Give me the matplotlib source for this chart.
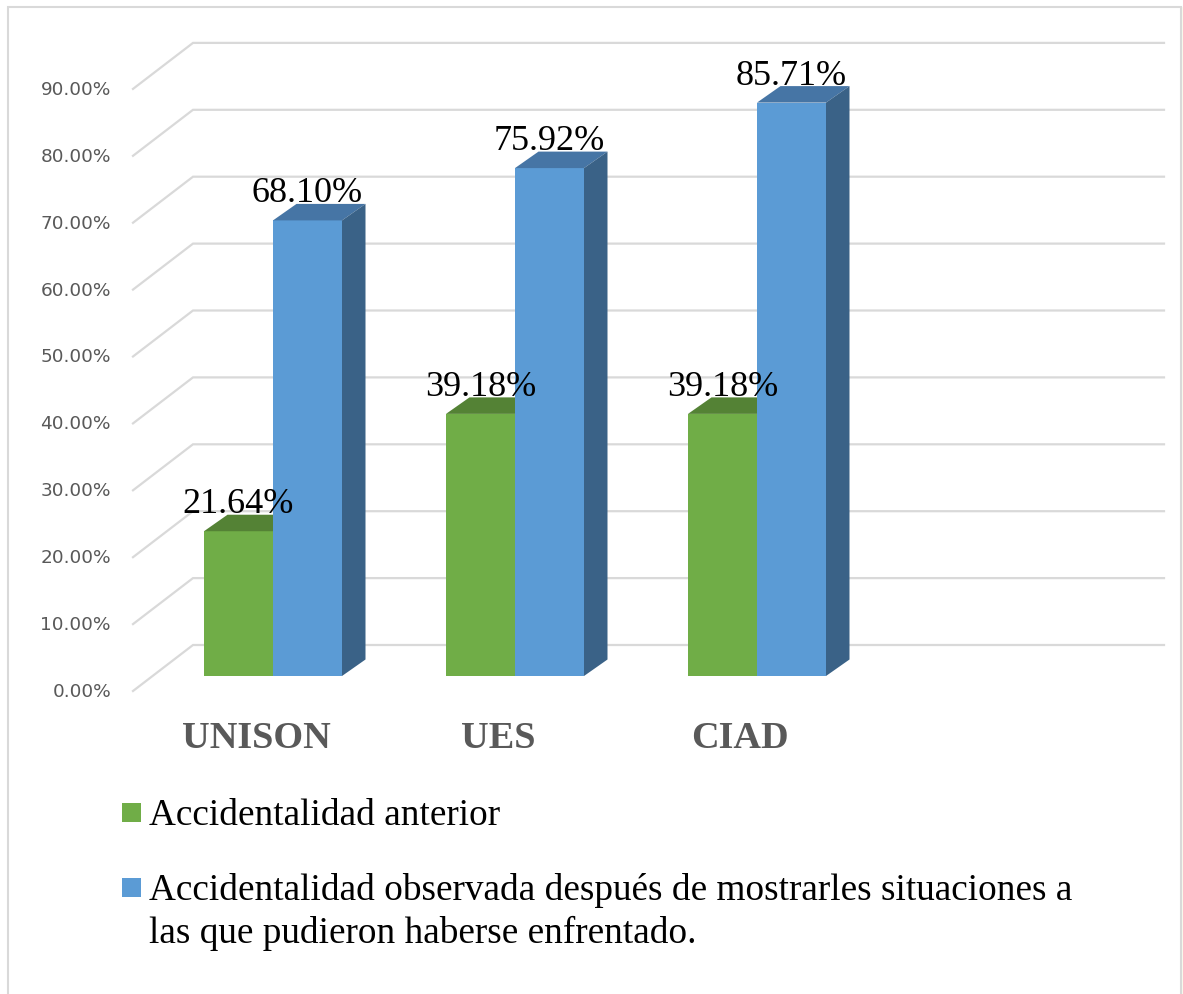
import matplotlib.pyplot as plt
from matplotlib.patches import Polygon, Rectangle
from matplotlib.lines import Line2D

categories = ["UNISON", "UES", "CIAD"]
anterior = [21.64, 39.18, 39.18]
observada = [68.10, 75.92, 85.71]
series_names = [
    "Accidentalidad anterior",
    "Accidentalidad observada después de mostrarles situaciones a\n"
    "las que pudieron haberse enfrentado.",
]
tick_values = [0, 10, 20, 30, 40, 50, 60, 70, 80, 90]

GREEN, GREEN_TOP = "#70AD47", "#548235"
BLUE, BLUE_TOP, BLUE_SIDE = "#5B9BD5", "#4675A5", "#3A6287"
GRID = "#D9D9D9"
LABEL_GRAY = "#595959"
SERIF = "Liberation Serif"

W, H = 1183, 995
fig = plt.figure(figsize=(W / 100, H / 100), dpi=100)
ax = fig.add_axes([0, 0, 1, 1])
ax.axis("off")

# pixel geometry of the pseudo 3D frame (Excel look)
CAT_PX = 242.0   # px between categories
PCT_PX = 6.69    # px per 1 %
X0_PX = 273      # px of first category centre
Y0_PX = 677      # px of 0 % on the bar front plane

ax.set_xlim(-X0_PX / CAT_PX, (W - X0_PX) / CAT_PX)
ax.set_ylim(-(H - Y0_PX) / PCT_PX, Y0_PX / PCT_PX)


def dx(px):
    return px / CAT_PX


def dy(px):
    return px / PCT_PX


bar_w = dx(69)
depth_x, depth_y = dx(23.5), dy(16.5)

# back wall + diagonal floor lines
floor_left = dx(153 - X0_PX)
wall_right = dx(1164 - X0_PX)
for v in tick_values:
    xf, yf = floor_left + dx(-20), v - dy(15)
    xb, yb = floor_left + dx(40), v + dy(31)
    ax.plot([xf, xb, wall_right], [yf, yb, yb], color=GRID, lw=1.6,
            solid_joinstyle="miter", zorder=1)
    ax.text(dx(111 - X0_PX), yf, f"{v:.2f}%", ha="right", va="center",
            fontsize=13.3, color=LABEL_GRAY, family="DejaVu Sans")


def draw_bar(x0, val, front, top, side):
    x1 = x0 + bar_w
    ax.bar(x0, val, width=bar_w, align="edge", color=front, lw=0, zorder=3)
    ax.add_patch(Polygon([(x0, val), (x0 + depth_x, val + depth_y),
                          (x1 + depth_x, val + depth_y), (x1, val)],
                         closed=True, fc=top, lw=0, zorder=3))
    ax.add_patch(Polygon([(x1, 0), (x1 + depth_x, depth_y),
                          (x1 + depth_x, val + depth_y), (x1, val)],
                         closed=True, fc=side, lw=0, zorder=3))


for i, cat in enumerate(categories):
    draw_bar(i - bar_w, anterior[i], GREEN, GREEN_TOP, GREEN_TOP)
    draw_bar(i, observada[i], BLUE, BLUE_TOP, BLUE_SIDE)
    for xc, val in [(i - bar_w / 2, anterior[i]), (i + bar_w / 2, observada[i])]:
        ax.text(xc, val + dy(19), f"{val:.2f}%", ha="center", va="baseline",
                fontsize=26, family=SERIF, color="black", zorder=5)
    ax.text(i - dx(17), -dy(71), cat, ha="center", va="baseline",
            fontsize=27.5, fontweight="bold", family=SERIF, color=LABEL_GRAY)

# legend
for k, (name, col) in enumerate(zip(series_names, [GREEN, BLUE])):
    sq_top = [804, 879][k]
    fig.add_artist(Rectangle((122 / W, 1 - (sq_top + 19) / H), 19 / W, 19 / H,
                             transform=fig.transFigure, fc=col, lw=0))
    for j, line in enumerate(name.split("\n")):
        fig.text(149 / W, 1 - (sq_top + 21 + 43 * j) / H, line, ha="left",
                 va="baseline", fontsize=26.8, family=SERIF, color="black")

# outer chart border
fig.add_artist(Rectangle((7.5 / W, -0.02), (1181 - 7.5) / W, 1.02 - 8 / H,
                         transform=fig.transFigure, fill=False, ec=GRID, lw=1.5))
fig.add_artist(Line2D([1182.5 / W] * 2, [0, 1 - 8 / H], transform=fig.transFigure,
                      color="#E1E5A6", lw=1))

fig.savefig("out.png", dpi=100)
